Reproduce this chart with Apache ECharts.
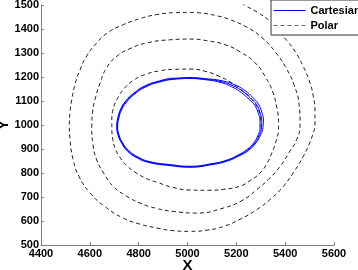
<!DOCTYPE html>
<html>
<head>
<meta charset="utf-8">
<script src="https://cdn.jsdelivr.net/npm/echarts@6/dist/echarts.min.js"></script>
<style>html,body{margin:0;padding:0;background:#fff}#c{width:358px;height:270px}</style>
</head>
<body>
<div id="c"></div>
<script>
// Axis ticks
var xTicks = [4400, 4600, 4800, 5000, 5200, 5400, 5600];
var yTicks = [500, 600, 700, 800, 900, 1000, 1100, 1200, 1300, 1400, 1500];

// "Cartesian" trajectory (blue, three nearly overlapping loops)
var cartesianX = [
  5010, 5072, 5133, 5186, 5228, 5260, 5283, 5297, 5304, 5303, 5295, 5276, 5248, 5207, 5160, 5100, 5010, 4928, 4846, 4797, 4756, 4732, 4717, 4712, 4717, 4728, 4748, 4781, 4826, 4887, 4949,
  5010, 5074, 5138, 5193, 5236, 5268, 5290, 5304, 5311, 5309, 5300, 5280, 5251, 5209, 5161, 5100, 5010, 4927, 4845, 4795, 4754, 4730, 4715, 4710, 4715, 4726, 4746, 4779, 4824, 4886, 4948,
  5010, 5070, 5129, 5180, 5221, 5253, 5276, 5290, 5297, 5297, 5290, 5272, 5245, 5205, 5159, 5100, 5010, 4930, 4848, 4799, 4758, 4734, 4719, 4714, 4719, 4730, 4750, 4783, 4828, 4889, 4950, 5010
];
var cartesianY = [
  1196, 1191, 1182, 1164, 1139, 1110, 1085, 1051, 1018, 989, 960, 926, 897, 872, 851, 837, 826, 833, 845, 864, 893, 926, 960, 994, 1030, 1064, 1097, 1130, 1160, 1182, 1193,
  1198, 1193, 1185, 1168, 1143, 1114, 1088, 1054, 1020, 990, 960, 925, 895, 870, 849, 835, 824, 831, 843, 862, 891, 925, 960, 994, 1031, 1066, 1099, 1132, 1162, 1184, 1195,
  1194, 1189, 1179, 1160, 1135, 1106, 1081, 1048, 1016, 988, 960, 927, 899, 874, 853, 839, 828, 835, 847, 866, 895, 927, 960, 994, 1029, 1063, 1095, 1128, 1158, 1180, 1191, 1194
];

// "Polar" trajectory (black dashed outward spiral, counter-clockwise)
var polarX = [
  5301, 5299, 5290, 5272, 5248, 5215, 5174, 5125, 5072, 5010, 4949, 4887, 4826, 4777, 4740, 4713, 4695, 4690, 4690, 4693, 4703, 4724, 4752, 4789, 4830, 4879, 4936, 5010, 5084, 5147, 5215, 5256, 5297, 5325, 5346, 5362, 5372, 5373,
  5371, 5366, 5351, 5321, 5276, 5215, 5153, 5092, 5010, 4928, 4833, 4764, 4710, 4669, 4642, 4621, 4611, 4608, 4613, 4628, 4658, 4696, 4748, 4805, 4871, 4942, 5038, 5147, 5223, 5283, 5338, 5379, 5416, 5447, 5461,
  5457, 5436, 5403, 5362, 5305, 5242, 5174, 5120, 5051, 5010, 4949, 4874, 4805, 4737, 4674, 4629, 4588, 4560, 4539, 4526, 4519, 4516, 4519, 4532, 4556, 4601, 4662, 4737, 4805, 4874, 4941, 5010, 5080, 5147, 5215, 5283, 5342, 5392, 5436, 5474, 5497, 5515, 5522,
  5522, 5514, 5497, 5474, 5444, 5411, 5379, 5338, 5289, 5235, 5194
];
var polarY = [
  989, 1030, 1064, 1097, 1124, 1151, 1180, 1205, 1224, 1233, 1232, 1226, 1210, 1185, 1151, 1110, 1064, 1018, 993, 947, 905, 864, 830, 801, 778, 760, 741, 729, 728, 732, 745, 768, 800, 839, 885, 930, 976, 1005,
  1043, 1072, 1133, 1197, 1260, 1305, 1335, 1349, 1358, 1355, 1342, 1318, 1286, 1239, 1175, 1105, 1051, 994, 918, 855, 797, 744, 705, 675, 653, 640, 633, 654, 685, 730, 780, 827, 885, 939, 1001,
  1085, 1168, 1239, 1301, 1364, 1408, 1439, 1455, 1467, 1469, 1468, 1460, 1443, 1418, 1385, 1343, 1289, 1230, 1168, 1105, 1055, 1001, 939, 855, 785, 717, 660, 612, 587, 571, 560, 557, 562, 577, 607, 647, 693, 744, 805, 869, 918, 967, 1001,
  1055, 1126, 1189, 1244, 1301, 1347, 1385, 1432, 1468, 1499, 1526
];

function zip(xs, ys) { return xs.map(function (x, i) { return [x, ys[i]]; }); }
function plain(v) { return String(v); }

var chart = echarts.init(document.getElementById('c'), null, { renderer: 'canvas' });
var font = 'Liberation Sans, Arial, sans-serif';
chart.setOption({
  animation: false,
  backgroundColor: '#ffffff',
  grid: { left: 41, right: 24, top: 5, bottom: 25, containLabel: false, outerBoundsMode: 'none' },
  xAxis: {
    type: 'value', min: xTicks[0], max: xTicks[xTicks.length - 1], interval: 200,
    name: 'X', nameLocation: 'middle', nameGap: 13, nameMoveOverlap: false,
    nameTextStyle: { fontFamily: font, fontSize: 15, fontWeight: 'bold', color: '#000' },
    axisLine: { show: true, onZero: false, lineStyle: { color: '#7f7f7f', width: 1 } },
    axisTick: { show: true, inside: true, length: 3, lineStyle: { color: '#7f7f7f' } },
    axisLabel: { margin: 3, fontFamily: font, fontSize: 11, fontWeight: 'bold', color: '#000', formatter: plain },
    splitLine: { show: false }
  },
  yAxis: {
    type: 'value', min: yTicks[0], max: yTicks[yTicks.length - 1], interval: 100,
    name: 'Y', nameLocation: 'middle', nameGap: 30, nameMoveOverlap: false,
    nameTextStyle: { fontFamily: font, fontSize: 15, fontWeight: 'bold', color: '#000' },
    axisLine: { show: true, onZero: false, lineStyle: { color: '#7f7f7f', width: 1 } },
    axisTick: { show: true, inside: true, length: 3, lineStyle: { color: '#7f7f7f' } },
    axisLabel: { margin: 2, fontFamily: font, fontSize: 11, fontWeight: 'bold', color: '#000', formatter: plain },
    splitLine: { show: false }
  },
  legend: {
    show: true,
    orient: 'vertical', left: 271, top: 0,
    itemWidth: 32, itemHeight: 10, itemGap: 4,
    padding: [5, 4, 4, 2],
    backgroundColor: '#ffffff', borderColor: '#333333', borderWidth: 1,
    itemStyle: { opacity: 0 },
    lineStyle: { width: 1 },
    textStyle: { fontFamily: font, fontSize: 11, fontWeight: 'bold', color: '#000' },
    data: [
      { name: 'Cartesian' },
      { name: 'Polar', lineStyle: { color: '#6a6a6a', width: 1, type: [4, 3] } }
    ]
  },
  series: [
    {
      name: 'Cartesian', type: 'line', data: zip(cartesianX, cartesianY),
      smooth: 0.5, symbol: 'none', showSymbol: false, z: 3,
      lineStyle: { color: '#0000ff', width: 1 },
      itemStyle: { color: '#0000ff' }
    },
    {
      name: 'Polar', type: 'line', data: zip(polarX, polarY),
      smooth: 0.5, symbol: 'none', showSymbol: false, z: 2,
      lineStyle: { color: '#000000', width: 0.9, type: [4, 3] },
      itemStyle: { color: '#555555' }
    }
  ]
});
</script>
</body>
</html>
